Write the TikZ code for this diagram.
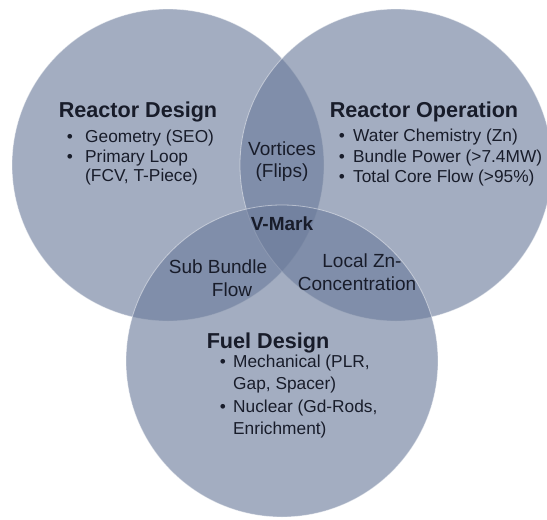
\documentclass[tikz,border=0pt]{standalone}
\usepackage{fontspec}
\setmainfont{Liberation Sans}
\definecolor{vblue}{RGB}{107,123,155}
\definecolor{vtext}{RGB}{24,28,42}
\begin{document}
\begin{tikzpicture}[x=1pt,y=-1pt,
  circ/.style={circle, inner sep=0pt, minimum size=312pt, fill=vblue, fill opacity=0.62, draw=white, draw opacity=0.45, line width=0.8pt},
  title/.style={font=\fontsize{21.6}{25}\selectfont\bfseries, text=vtext, inner sep=0pt, anchor=base},
  item/.style={font=\fontsize{17.3}{20}\selectfont, text=vtext, inner sep=0pt, anchor=base west},
  bul/.style={font=\fontsize{17.3}{20}\selectfont, text=vtext, inner sep=0pt, anchor=base},
  mid/.style={font=\fontsize{19}{22}\selectfont, text=vtext, inner sep=0pt, anchor=base},
  midb/.style={font=\fontsize{19}{22}\selectfont\bfseries, text=vtext, inner sep=0pt, anchor=base}]
\useasboundingbox (0,0) rectangle (547,520);
\begin{scope}
\clip (0,0) rectangle (547,520);
\node[circ] (cL) at (168,165) {};
\node[circ] (cR) at (396,165) {};
\node[circ] (cB) at (282,361) {};
\end{scope}
% Reactor Design
\node[title] (rdT) at (138,117) {Reactor Design};
\node[bul] (rdB1) at (70,142) {\textbullet};
\node[item] (rd1) at (85,142) {Geometry (SEO)};
\node[bul] (rdB2) at (70,162) {\textbullet};
\node[item] (rd2) at (85,162) {Primary Loop};
\node[item] (rd3) at (85,181) {(FCV, T-Piece)};
% Reactor Operation
\node[title] (roT) at (424,117) {Reactor Operation};
\node[bul] (roB1) at (342,141) {\textbullet};
\node[item] (ro1) at (353,141) {Water Chemistry (Zn)};
\node[bul] (roB2) at (342,162) {\textbullet};
\node[item] (ro2) at (353,162) {Bundle Power (>7.4MW)};
\node[bul] (roB3) at (342,182) {\textbullet};
\node[item] (ro3) at (353,182) {Total Core Flow (>95\%)};
% intersections
\node[mid] (vo1) at (282,155) {Vortices};
\node[mid] (vo2) at (282,177) {(Flips)};
\node[midb] (vm) at (282,230) {V-Mark};
\node[mid] (sb1) at (218,273) {Sub Bundle};
\node[mid] (sb2) at (232,296) {Flow};
\node[mid] (lz1) at (362,267) {Local Zn-};
\node[mid] (lz2) at (357,290) {Concentration};
% Fuel Design
\node[title] (fdT) at (268,348) {Fuel Design};
\node[bul] (fdB1) at (223,367) {\textbullet};
\node[item] (fd1) at (233,367) {Mechanical (PLR,};
\node[item] (fd2) at (233,389) {Gap, Spacer)};
\node[bul] (fdB2) at (223,412) {\textbullet};
\node[item] (fd3) at (233,412) {Nuclear (Gd-Rods,};
\node[item] (fd4) at (233,434) {Enrichment)};
\end{tikzpicture}
\end{document}
